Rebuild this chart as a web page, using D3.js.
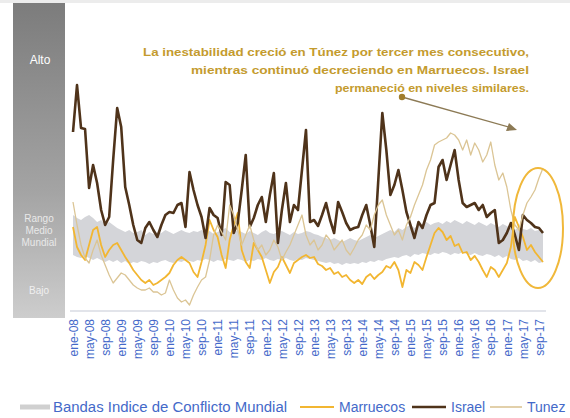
<!DOCTYPE html>
<html>
<head>
<meta charset="utf-8">
<script src="https://cdn.jsdelivr.net/npm/d3@7"></script>
<style>
  body { margin: 0; background: #fff; }
  svg { display: block; font-family: "Liberation Sans", Arial, sans-serif; }
</style>
</head>
<body>
<div id="chart"></div>
<script>
const width = 570;
const height = 418;

// monthly categories, ene-08 .. oct-17
const meses = ["ene","feb","mar","abr","may","jun","jul","ago","sep","oct","nov","dic"];
const years = ["08","09","10","11","12","13","14","15","16","17"];
const nMonths = 118;

// index values (arbitrary units)
const israel = [178,225,182,181,122,145,127,100,85,93,
  150,202,183,123,105,85,70,67,82,88,
  80,73,85,95,98,97,105,107,83,138,
  120,105,93,72,102,95,92,75,128,125,
  77,87,120,155,83,92,105,113,88,115,
  137,67,100,127,88,105,100,140,180,88,
  90,84,95,107,90,77,108,98,87,80,
  82,83,95,105,85,63,130,197,160,115,
  125,140,120,98,85,72,88,82,95,105,
  107,143,150,130,145,160,130,107,103,105,
  107,100,105,93,97,100,67,70,77,87,
  75,60,95,90,87,83,82,77];

const marruecos = [83,63,55,50,65,80,83,65,53,60,
  65,67,60,53,47,40,35,30,27,30,
  25,27,30,33,37,45,50,53,50,47,
  38,33,48,65,90,80,73,55,42,70,
  85,97,60,48,42,67,60,53,40,27,
  38,43,53,45,37,47,50,53,55,52,
  53,46,44,40,42,36,38,33,35,30,
  27,30,26,33,36,31,35,38,44,42,
  48,40,23,40,37,48,45,40,53,65,
  77,82,78,70,74,64,66,57,58,50,
  54,48,40,33,43,40,33,40,47,63,
  93,83,73,60,65,58,53,48];

const tunez = [108,85,65,52,47,60,70,55,45,35,
  27,32,37,35,30,25,22,20,20,22,
  18,18,15,17,30,20,12,8,10,5,
  15,23,30,33,50,75,85,78,70,105,
  95,80,65,75,85,70,60,65,55,60,
  70,63,50,58,65,75,85,95,75,65,
  70,60,65,75,70,60,65,70,60,55,
  62,70,75,85,80,95,105,110,95,85,
  75,80,70,85,93,105,115,125,140,150,
  165,168,170,172,177,175,170,160,170,155,
  167,160,148,155,168,145,130,137,123,100,
  85,80,95,107,113,120,132,142];

const bandaAlta = [95,92,90,93,95,92,88,90,85,88,
  85,82,80,78,80,77,78,80,75,78,
  76,78,77,80,78,76,78,80,78,77,
  79,78,80,77,79,76,78,80,82,78,
  77,80,78,76,79,77,75,78,80,77,
  76,78,79,77,75,78,76,77,79,78,
  76,75,73,72,70,72,70,68,70,72,
  70,69,71,73,75,72,74,76,78,80,
  78,82,80,83,85,82,84,86,88,85,
  87,88,86,89,87,90,88,86,89,87,
  85,88,86,84,87,85,83,86,84,82,
  80,83,81,80,82,79,80,78];

const bandaBaja = [55,53,52,54,52,50,52,50,48,50,
  48,50,47,49,46,48,47,49,48,46,
  48,47,49,50,48,47,49,48,50,49,
  48,50,49,51,50,48,50,49,51,50,
  49,51,50,48,50,49,51,50,52,50,
  49,51,50,52,50,49,51,50,52,51,
  50,49,48,47,48,46,47,45,47,46,
  47,46,48,47,49,48,50,49,51,52,
  53,52,54,55,53,56,55,57,56,55,
  57,56,58,57,55,57,56,58,56,55,
  57,55,54,56,55,53,55,52,54,51,
  50,52,49,50,48,50,47,48];

const nota = [
  "La inestabilidad creció en Túnez por tercer mes consecutivo,",
  "mientras continuó decreciendo en Marruecos. Israel",
  "permaneció en niveles similares."
];

const nivelLabels = ["Alto", "Rango", "Medio", "Mundial", "Bajo"];

const months = d3.range(nMonths).map(i => meses[i % 12] + "-" + years[Math.floor(i / 12)]);

const svg = d3.select("#chart").append("svg")
    .attr("width", width)
    .attr("height", height);

// faint strip at the top
svg.append("rect").attr("x", 0).attr("y", 0).attr("width", width).attr("height", 3).attr("fill", "#ececec");

// left level panel with gradient
const defs = svg.append("defs");
const grad = defs.append("linearGradient").attr("id", "panel").attr("x1", 0).attr("x2", 0).attr("y1", 0).attr("y2", 1);
grad.append("stop").attr("offset", "0%").attr("stop-color", "#7c7c7c");
grad.append("stop").attr("offset", "60%").attr("stop-color", "#a4a4a4");
grad.append("stop").attr("offset", "100%").attr("stop-color", "#cdcdcd");

svg.append("rect")
    .attr("x", 13).attr("y", 3)
    .attr("width", 52).attr("height", 315)
    .attr("fill", "url(#panel)");

const panelText = svg.append("g").attr("text-anchor", "middle");
panelText.append("text").attr("x", 40).attr("y", 64)
    .attr("font-size", 12).attr("fill", "#ffffff").text(nivelLabels[0]);
[1, 2, 3].forEach((k, j) => {
  panelText.append("text").attr("x", 39).attr("y", 222 + j * 12)
      .attr("font-size", 10).attr("fill", "#e9e9e9").text(nivelLabels[k]);
});
panelText.append("text").attr("x", 39).attr("y", 294)
    .attr("font-size", 10).attr("fill", "#f0f0f0").text(nivelLabels[4]);

// scales
const x = d3.scaleLinear().domain([0, nMonths - 1]).range([73, 543]);
const y = d3.scaleLinear().domain([0, 300]).range([310, 10]);

// world conflict band
svg.append("path")
    .datum(d3.range(nMonths))
    .attr("fill", "#d4d5d9")
    .attr("d", d3.area()
        .x(i => x(i))
        .y0(i => y(bandaBaja[i]))
        .y1(i => y(bandaAlta[i])));

const line = data => d3.line().x((d, i) => x(i)).y(d => y(d))(data);

svg.append("path").attr("d", line(marruecos))
    .attr("fill", "none").attr("stroke", "#f2b631").attr("stroke-width", 1.8)
    .attr("stroke-linejoin", "round");

svg.append("path").attr("d", line(israel))
    .attr("fill", "none").attr("stroke", "#4f331a").attr("stroke-width", 2.6)
    .attr("stroke-linejoin", "round");

svg.append("path").attr("d", line(tunez))
    .attr("fill", "none").attr("stroke", "#dbc595").attr("stroke-width", 1.3)
    .attr("stroke-linejoin", "round");

// x axis
const xAxis = d3.axisBottom(x)
    .tickValues(d3.range(0, nMonths, 4))
    .tickFormat(i => months[i])
    .tickSize(0);

const gx = svg.append("g")
    .attr("transform", "translate(0,311)")
    .call(xAxis);
gx.select(".domain").attr("stroke", "#c5cad6").attr("stroke-width", 1.2)
    .attr("d", "M70,0H546");
gx.selectAll("text")
    .attr("font-family", "Liberation Sans, Arial, sans-serif")
    .attr("font-size", 12)
    .attr("fill", "#4469c9")
    .attr("text-anchor", "end")
    .attr("transform", "rotate(-90)")
    .attr("x", -8)
    .attr("y", 0)
    .attr("dy", "0.35em");

// highlight ellipse
svg.append("ellipse")
    .attr("cx", 538).attr("cy", 228)
    .attr("rx", 25).attr("ry", 60)
    .attr("fill", "none").attr("stroke", "#f0b83a").attr("stroke-width", 2);

// annotation
const notaLen = [386, 338, 194];
svg.append("g").selectAll("text")
    .data(nota)
    .join("text")
    .attr("x", (d, i) => 529 - notaLen[i])
    .attr("y", (d, i) => 56 + i * 18)
    .attr("textLength", (d, i) => notaLen[i])
    .attr("lengthAdjust", "spacingAndGlyphs")
    .attr("font-size", 11)
    .attr("font-weight", "bold")
    .attr("fill", "#c49b2e")
    .text(d => d);

svg.append("line")
    .attr("x1", 402).attr("y1", 97)
    .attr("x2", 512).attr("y2", 128)
    .attr("stroke", "#8c7a55").attr("stroke-width", 1.3);
svg.append("circle").attr("cx", 402).attr("cy", 97).attr("r", 3.2).attr("fill", "#a07d2c");
svg.append("path")
    .attr("d", "M517,130 L506,131 L509,123 Z")
    .attr("fill", "#8c7a55");

// legend
const legend = [
  { label: "Bandas Indice de Conflicto Mundial", color: "#d0d0d0", w: 5, x0: 20, x1: 50, tx: 53, len: 234 },
  { label: "Marruecos", color: "#f2b631", w: 1.8, x0: 300, x1: 334, tx: 339 },
  { label: "Israel", color: "#4f331a", w: 2.4, x0: 412, x1: 446, tx: 451 },
  { label: "Tunez", color: "#dbc595", w: 1.6, x0: 490, x1: 522, tx: 527 }
];
const lg = svg.append("g");
legend.forEach(d => {
  lg.append("line").attr("x1", d.x0).attr("x2", d.x1).attr("y1", 407).attr("y2", 407)
      .attr("stroke", d.color).attr("stroke-width", d.w);
  const t = lg.append("text").attr("x", d.tx).attr("y", 407).attr("dy", "0.35em")
      .attr("font-size", 14).attr("fill", "#4469c9").text(d.label);
  if (d.len) t.attr("textLength", d.len).attr("lengthAdjust", "spacingAndGlyphs");
});
</script>
</body>
</html>
